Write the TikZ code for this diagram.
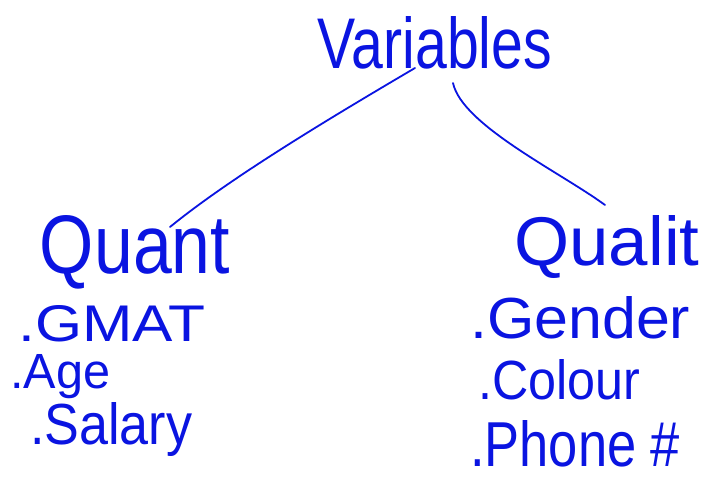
\documentclass[tikz,border=0pt]{standalone}
\usepackage{fontspec}
\setsansfont{Liberation Sans}
\usepackage{graphicx}
\definecolor{ink}{RGB}{10,20,225}
\begin{document}
\begin{tikzpicture}[x=1pt,y=-1pt,
  hw/.style={text=ink, inner sep=0pt, font=\sffamily},
  stroke/.style={draw=ink, line width=1.8pt, line cap=round}]
\fill[white] (0,0) rectangle (714,481);
\useasboundingbox (0,0) rectangle (714,481);

% root
\node[hw] (var) at (435,43) {\resizebox{234pt}{52pt}{Variables}};

% branches
\node[hw] (quant) at (135,252) {\resizebox{190pt}{58pt}{Quant}};
\node[hw] (qual) at (607,247) {\resizebox{185pt}{50pt}{Qualit}};

% quantitative items
\node[hw, anchor=west] (gmat) at (18,324) {\resizebox{187pt}{36pt}{.GMAT}};
\node[hw, anchor=west] (age) at (10,377) {\resizebox{100pt}{34pt}{.Age}};
\node[hw, anchor=west] (sal) at (30,430) {\resizebox{162pt}{42pt}{.Salary}};

% qualitative items
\node[hw, anchor=west] (gen) at (470,318) {\resizebox{220pt}{42pt}{.Gender}};
\node[hw, anchor=west] (col) at (478,380) {\resizebox{162pt}{40pt}{.Colour}};
\node[hw, anchor=west] (ph) at (470,444) {\resizebox{210pt}{46pt}{.Phone \#}};

% connector end points
\coordinate (vl) at (415,68);
\coordinate (vr) at (453,83);
\coordinate (ql) at (170,227);
\coordinate (qr) at (605,205);

\draw[stroke] (vl) .. controls (330,118) and (230,178) .. (ql);
\draw[stroke] (vr) .. controls (462,125) and (560,172) .. (qr);
\end{tikzpicture}
\end{document}
